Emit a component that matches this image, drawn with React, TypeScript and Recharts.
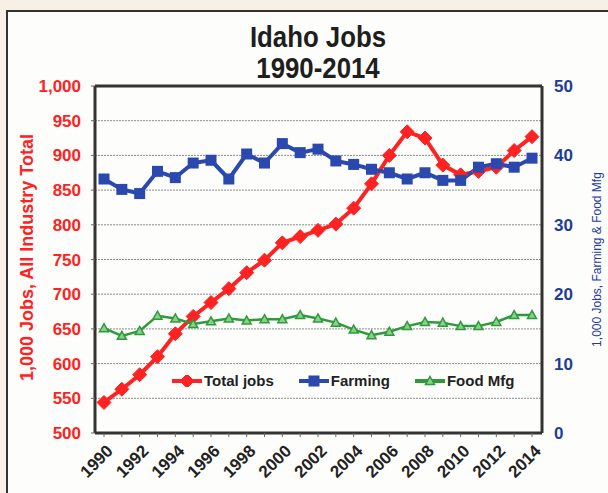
import React from 'react';
import { LineChart, Line, XAxis, YAxis, CartesianGrid, Legend, ReferenceLine } from 'recharts';

const years = [
  1990, 1991, 1992, 1993, 1994, 1995, 1996, 1997, 1998, 1999, 2000, 2001, 2002,
  2003, 2004, 2005, 2006, 2007, 2008, 2009, 2010, 2011, 2012, 2013, 2014,
];
// 1,000 jobs, left axis
const totalJobs = [
  544, 563, 584, 610, 643, 668, 688, 708, 731, 749, 774, 783, 792,
  801, 824, 859, 900, 934, 925, 886, 872, 877, 883, 907, 927,
];
// 1,000 jobs, right axis
const farming = [
  36.6, 35.1, 34.5, 37.7, 36.8, 38.9, 39.3, 36.6, 40.2, 38.9, 41.7, 40.4, 40.9,
  39.2, 38.7, 38.0, 37.5, 36.6, 37.5, 36.4, 36.4, 38.3, 38.8, 38.3, 39.6,
];
const foodMfg = [
  15.1, 14.0, 14.7, 16.9, 16.5, 15.7, 16.1, 16.5, 16.2, 16.4, 16.4, 17.0, 16.5,
  15.9, 14.9, 14.1, 14.6, 15.4, 16.0, 15.9, 15.4, 15.4, 16.0, 17.0, 17.0,
];
const leftTicks = [500, 550, 600, 650, 700, 750, 800, 850, 900, 950, 1000];
const rightTicks = [0, 10, 20, 30, 40, 50];
const legendOrder = ['total', 'farming', 'food'];

const data = years.map((y, i) => ({
  year: String(y),
  total: totalJobs[i],
  farming: farming[i],
  food: foodMfg[i],
}));

const FONT = '"Liberation Sans", Arial, sans-serif';
const RED = '#ff2222';
const BLUE = '#2a48ad';
const BLUE_TEXT = '#1c3c9c';
const GREEN = '#2f9a3c';
const FRAME = '#333';

const Diamond = ({ cx, cy }: any) => (
  <path d={`M${cx},${cy - 7}L${cx + 7},${cy}L${cx},${cy + 7}L${cx - 7},${cy}Z`} fill={RED} stroke={RED} strokeWidth={1} strokeLinejoin="round" />
);
const Square = ({ cx, cy }: any) => (
  <rect x={cx - 5.5} y={cy - 5.5} width={11} height={11} fill={BLUE} />
);
const Triangle = ({ cx, cy }: any) => (
  <path d={`M${cx},${cy - 4.5}L${cx + 4.5},${cy + 3.5}L${cx - 4.5},${cy + 3.5}Z`} fill="#8bcf8b" stroke={GREEN} strokeWidth={1.5} />
);

const markers: Record<string, any> = { total: Diamond, farming: Square, food: Triangle };

const XTick = ({ x, y, payload }: any) => {
  if (Number(payload.value) % 2 !== 0) return <g />;
  const tx = x + 10;
  const ty = y + 13;
  return (
    <text x={tx} y={ty} textAnchor="end" transform={`rotate(-45, ${tx}, ${ty})`}
      fontFamily={FONT} fontWeight="bold" fontSize={17} fill="#222">
      {payload.value}
    </text>
  );
};

const LeftTitle = ({ viewBox }: any) => {
  const cx = viewBox.x + 27;
  const cy = viewBox.y + viewBox.height / 2 - 2;
  return (
    <text x={cx} y={cy} textAnchor="middle" dominantBaseline="central" transform={`rotate(-90, ${cx}, ${cy})`}
      fontFamily={FONT} fontWeight="bold" fontSize={18} fill={RED}>
      1,000 Jobs, All Industry Total
    </text>
  );
};

const RightTitle = ({ viewBox }: any) => {
  const cx = viewBox.x + 55;
  const cy = viewBox.y + viewBox.height / 2;
  return (
    <text x={cx} y={cy} textAnchor="middle" dominantBaseline="central" transform={`rotate(-90, ${cx}, ${cy})`}
      fontFamily={FONT} fontSize={12} fill={BLUE_TEXT}>
      1,000 Jobs, Farming &amp; Food Mfg
    </text>
  );
};

const LegendContent = ({ payload }: any) => {
  const items = [...(payload || [])].sort(
    (a: any, b: any) => legendOrder.indexOf(a.dataKey) - legendOrder.indexOf(b.dataKey)
  );
  return (
    <div style={{ display: 'flex', gap: 24, fontFamily: FONT, fontWeight: 'bold', fontSize: 15, color: '#222' }}>
      {items.map((item: any) => {
        const M = markers[item.dataKey];
        return (
          <div key={item.dataKey} style={{ display: 'flex', alignItems: 'center' }}>
            <svg width={32} height={12}>
              <line x1={1} y1={6} x2={31} y2={6} stroke={item.color} strokeWidth={4} />
              <M cx={16} cy={6} />
            </svg>
            <span style={{ marginLeft: 1 }}>{item.value}</span>
          </div>
        );
      })}
    </div>
  );
};

export default function App() {
  return (
    <div style={{ position: 'absolute', left: 0, top: 0, width: 608, height: 493, background: '#f6f1e4', overflow: 'hidden' }}>
      <div style={{ position: 'absolute', left: 6, top: 10, right: 0, bottom: 0, background: '#fdfdfb', borderLeft: `2px solid ${FRAME}`, borderTop: `2px solid ${FRAME}` }} />
      <div style={{ position: 'absolute', left: 0, top: 21, width: 636, textAlign: 'center', fontFamily: FONT, fontWeight: 'bold', fontSize: 30, lineHeight: '31px', color: '#1e1e1e', transform: 'scaleX(0.86)', transformOrigin: '318px 0' }}>
        Idaho Jobs<br />1990-2014
      </div>
      <div style={{ position: 'absolute', left: 0, top: 0 }}>
        <LineChart width={608} height={493} data={data} margin={{ top: 86, right: 0, left: 0, bottom: 0 }}>
          <CartesianGrid yAxisId="left" vertical={false} stroke="#8a8a8a" strokeDasharray="2 1" />
          <XAxis
            dataKey="year"
            height={60}
            interval={0}
            padding={{ left: 9, right: 10 }}
            tick={<XTick />}
            tickSize={4}
            tickLine={{ stroke: '#666' }}
            axisLine={{ stroke: FRAME, strokeWidth: 3 }}
          />
          <YAxis
            yAxisId="left"
            width={95}
            domain={[500, 1000]}
            ticks={leftTicks}
            tickFormatter={(v: number) => v.toLocaleString('en-US')}
            tick={{ fill: RED, fontSize: 17, fontWeight: 'bold', fontFamily: FONT }}
            tickSize={4}
            tickMargin={10}
            tickLine={{ stroke: '#666' }}
            axisLine={{ stroke: FRAME, strokeWidth: 3 }}
            label={<LeftTitle />}
          />
          <YAxis
            yAxisId="right"
            orientation="right"
            width={66}
            domain={[0, 50]}
            ticks={rightTicks}
            tick={{ fill: BLUE_TEXT, fontSize: 17, fontWeight: 'bold', fontFamily: FONT }}
            tickSize={0}
            tickMargin={12}
            axisLine={{ stroke: FRAME, strokeWidth: 3 }}
            label={<RightTitle />}
          />
          <ReferenceLine yAxisId="left" y={1000} stroke={FRAME} strokeWidth={3} />
          <Legend
            layout="horizontal"
            verticalAlign="middle"
            content={<LegendContent />}
            wrapperStyle={{ position: 'absolute', top: 372, left: 171, width: 'auto' }}
          />
          <Line yAxisId="left" dataKey="total" name="Total jobs" stroke={RED} strokeWidth={4} dot={(p: any) => <Diamond key={p.index} cx={p.cx} cy={p.cy} />} isAnimationActive={false} />
          <Line yAxisId="right" dataKey="farming" name="Farming" stroke={BLUE} strokeWidth={4} dot={(p: any) => <Square key={p.index} cx={p.cx} cy={p.cy} />} isAnimationActive={false} />
          <Line yAxisId="right" dataKey="food" name="Food Mfg" stroke={GREEN} strokeWidth={2.5} dot={(p: any) => <Triangle key={p.index} cx={p.cx} cy={p.cy} />} isAnimationActive={false} />
        </LineChart>
      </div>
    </div>
  );
}
